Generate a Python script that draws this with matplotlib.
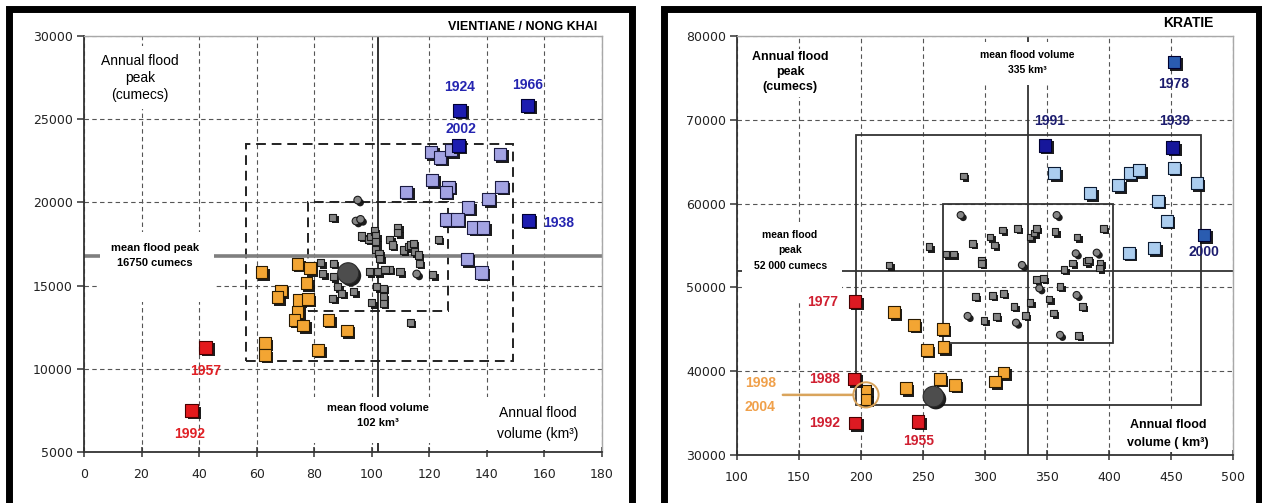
import matplotlib
matplotlib.use('Agg')
import matplotlib.pyplot as plt
from matplotlib.patches import Rectangle
import matplotlib.patheffects as pe

# ---------------- DATA : VIENTIANE / NONG KHAI ----------------
L_red_x = [42.3, 37.4]
L_red_y = [11300, 7490]
L_red_lab = ['1957', '1992']

L_blue_x = [130.6, 154.2, 130.1, 154.4]
L_blue_y = [25540, 25840, 23440, 18940]
L_blue_lab = ['1924', '1966', '2002', '1938']

L_lav_x = [120.6, 123.7, 127.5, 144.5, 121.0, 126.6, 125.7, 111.9, 145.1, 140.5,
           133.5, 126.0, 129.8, 135.3, 138.7, 133.0, 138.2]
L_lav_y = [23040, 22700, 23140, 22900, 21340, 20940, 20640, 20640, 20940, 20200,
           19700, 18980, 18980, 18480, 18480, 16600, 15780]

L_org_x = [61.7, 74.2, 78.5, 77.3, 68.4, 67.3, 74.5, 77.9, 74.2, 73.1, 76.2,
           62.9, 62.9, 81.4, 84.9, 91.3]
L_org_y = [15800, 16300, 16040, 15140, 14700, 14300, 14140, 14200, 13430, 12940,
           12600, 11540, 10840, 11140, 12940, 12300]

L_gsq_x = [86.4, 96.4, 98.8, 99.4, 100.8, 101.4, 101.4, 101.4, 102.5, 102.8, 106.3,
           107.1, 109.0, 109.0, 110.9, 112.7, 113.3, 114.4, 114.8, 116.2, 116.5,
           123.1, 121.2, 109.8, 106.1, 104.6, 102.0, 99.1, 82.2, 82.9, 86.6, 86.6,
           88.1, 89.5, 93.8, 86.4, 101.7, 104.0, 104.0, 104.0, 100.0, 113.3]
L_gsq_y = [19120, 17980, 17780, 17940, 18280, 17980, 17640, 17180, 16940, 16640, 17780,
           17440, 18500, 18180, 17140, 17340, 17440, 17540, 17040, 16840, 16340,
           17780, 15640, 15840, 15980, 15980, 15840, 15840, 16380, 15700, 16340, 15540,
           14940, 14540, 14640, 14240, 14940, 14840, 14340, 13940, 13980, 12800]
L_gci_x = [95.1, 94.5, 96.1, 115.6]
L_gci_y = [20140, 18880, 18980, 15700]

L_mean_x, L_mean_y = [91.8], [15740]
L_mean_peak = 16750
L_mean_vol = 102
L_box_outer = (56.3, 149.0, 10450, 23500)
L_box_inner = (78.0, 126.4, 13500, 20000)
L_xticks = list(range(0, 181, 20))
L_yticks = list(range(5000, 30001, 5000))

# ---------------- DATA : KRATIE ----------------
R_red_x = [195.2, 194.4, 195.2, 246.2]
R_red_y = [48300, 39050, 33800, 34000]
R_red_lab = ['1977', '1988', '1992', '1955']

R_blue_x = [452.4, 348.4, 451.4, 476.6]
R_blue_y = [76900, 66970, 66700, 56250]
R_blue_lab = ['1978', '1991', '1939', '2000']

R_lb_x = [355.9, 384.7, 407.5, 416.9, 424.4, 452.4, 470.7, 439.3, 446.5, 416.1, 436.3]
R_lb_y = [63600, 61220, 62200, 63600, 63990, 64270, 62410, 60330, 57950, 54140, 54660]

R_org_x = [226.6, 242.7, 265.9, 253.0, 266.4, 263.7, 275.8, 236.3, 314.8, 308.1]
R_org_y = [47030, 45520, 45040, 42540, 42860, 39050, 38370, 37970, 39830, 38760]
R_pair_x = [204.0, 204.0]
R_pair_y = [37690, 36660]
R_pair_lab = ['1998', '2004']

R_gsq_x = [282.5, 222.6, 254.8, 268.5, 274.4, 297.3, 297.3, 290.1, 304.0, 307.5, 314.3,
           326.4, 336.3, 339.5, 341.7, 356.5, 374.0, 370.7, 382.0, 363.9, 341.7, 347.0,
           360.5, 378.5, 351.6, 355.1, 375.3, 336.3, 332.8, 323.4, 314.8, 306.2, 292.5,
           309.4, 299.2, 395.4, 383.3, 392.7, 392.2]
R_gsq_y = [63280, 52670, 54850, 53980, 53980, 53270, 52870, 55250, 56040, 55050, 56840,
           57040, 56040, 56520, 57040, 56640, 56040, 52940, 53060, 52160, 50970, 51080,
           50080, 47700, 48620, 46920, 44240, 48180, 46630, 47700, 49300, 49010, 48890,
           46510, 46030, 57040, 53270, 52940, 52340]
R_gci_x = [280.4, 329.8, 357.8, 373.2, 343.8, 373.9, 360.5, 325.0, 286.0, 390.1]
R_gci_y = [58630, 52670, 58630, 54060, 49890, 49090, 44330, 45790, 46590, 54140]

R_mean_x, R_mean_y = [258.4], [36970]
R_mean_peak = 52000
R_mean_vol = 335
R_box_outer = (196.0, 474.0, 36000, 68200)
R_box_inner = (266.0, 403.0, 43400, 60000)
R_xticks = list(range(100, 501, 50))
R_yticks = list(range(30000, 80001, 10000))

# ---------------- FIGURE ----------------
W, H = 1262, 503
plt.rcParams['font.family'] = ['Liberation Sans', 'DejaVu Sans']
fig = plt.figure(figsize=(W / 100, H / 100), dpi=100)
fig.patch.set_facecolor('white')

ax1 = fig.add_axes([84 / W, 1 - 452 / H, 518 / W, 416 / H])
ax2 = fig.add_axes([737 / W, 1 - 455 / H, 496 / W, 419 / H])

SH = [pe.SimplePatchShadow(offset=(1.8, -1.8), shadow_rgbFace='#111111', alpha=0.95), pe.Normal()]
TICKFONT = ['DejaVu Sans']


def style_axes(ax, xt, yt):
    ax.set_xlim(xt[0], xt[-1])
    ax.set_ylim(yt[0], yt[-1])
    ax.set_xticks(xt)
    ax.set_yticks(yt)
    ax.set_xticklabels([str(v) for v in xt], family=TICKFONT, fontsize=9, color='#222222')
    ax.set_yticklabels([str(v) for v in yt], family=TICKFONT, fontsize=9, color='#222222')
    ax.tick_params(axis='x', direction='inout', length=7, width=1.1, pad=8, color='#333333')
    ax.tick_params(axis='y', direction='out', length=5, width=1.1, pad=3, color='#333333')
    ax.set_axisbelow(True)
    ax.grid(True, linestyle=(0, (4, 3)), color='#555555', linewidth=0.8)
    for s in ['left', 'bottom']:
        ax.spines[s].set_color('#333333')
        ax.spines[s].set_linewidth(1.3)
    for s in ['top', 'right']:
        ax.spines[s].set_color('#a8a8a8')
        ax.spines[s].set_linewidth(1.0)


def white_box(ax, x0, x1, y0, y1):
    ax.add_patch(Rectangle((x0, y0), x1 - x0, y1 - y0, transform=ax.transAxes,
                           facecolor='white', edgecolor='none', zorder=3))


def rect(ax, b, **kw):
    x0, x1, y0, y1 = b
    ax.add_patch(Rectangle((x0, y0), x1 - x0, y1 - y0, fill=False, zorder=2, **kw))


def pts(ax, x, y, fc, ec, s, marker='s', z=5):
    ax.scatter(x, y, s=s, marker=marker, facecolor=fc, edgecolor=ec, linewidths=0.8,
               zorder=z, path_effects=SH)


# ---------------- LEFT PANEL ----------------
style_axes(ax1, L_xticks, L_yticks)
rect(ax1, L_box_outer, edgecolor='#222222', linewidth=1.4, linestyle=(0, (5, 3)))
rect(ax1, L_box_inner, edgecolor='#222222', linewidth=1.4, linestyle=(0, (5, 3)))
ax1.axhline(L_mean_peak, color='#7f7f7f', linewidth=2.6, zorder=2.2)
ax1.axvline(L_mean_vol, color='#222222', linewidth=1.3, zorder=2.2)

white_box(ax1, 0.021, 0.205, 0.825, 0.975)
white_box(ax1, 0.031, 0.250, 0.361, 0.528)
white_box(ax1, 0.436, 0.687, 0.022, 0.132)
white_box(ax1, 0.764, 0.990, 0.005, 0.132)

ax1.text(0.108, 0.899, 'Annual flood\npeak\n(cumecs)', transform=ax1.transAxes, ha='center',
         va='center', fontsize=10, linespacing=1.3, zorder=4)
ax1.text(0.137, 0.472, 'mean flood peak\n16750 cumecs', transform=ax1.transAxes, ha='center',
         va='center', fontsize=8, fontweight='bold', linespacing=1.55, zorder=4)
ax1.text(0.568, 0.088, 'mean flood volume\n102 km³', transform=ax1.transAxes, ha='center',
         va='center', fontsize=8, fontweight='bold', linespacing=1.6, zorder=4)
ax1.text(0.876, 0.069, 'Annual flood\nvolume (km³)', transform=ax1.transAxes, ha='center',
         va='center', fontsize=10, linespacing=1.6, zorder=4)
ax1.text(0.990, 1.022, 'VIENTIANE / NONG KHAI', transform=ax1.transAxes, ha='right',
         va='center', fontsize=9, fontweight='bold',
         family=['Liberation Sans Narrow', 'Liberation Sans'])

pts(ax1, L_gsq_x, L_gsq_y, '#858585', '#1a1a1a', 26)
pts(ax1, L_gci_x, L_gci_y, '#858585', '#1a1a1a', 30, marker='o')
pts(ax1, L_mean_x, L_mean_y, '#4d4d4d', '#2a2a2a', 230, marker='o')
pts(ax1, L_org_x, L_org_y, '#f3a533', '#2a1a00', 70)
pts(ax1, L_lav_x, L_lav_y, '#a3a3e3', '#1a1a40', 80)
pts(ax1, L_red_x, L_red_y, '#e3191c', '#4a0000', 85)
pts(ax1, L_blue_x, L_blue_y, '#1c1cb0', '#000035', 88)

L_red_off = [(0, -17), (-1.5, -17)]
for x, y, t, o in zip(L_red_x, L_red_y, L_red_lab, L_red_off):
    ax1.annotate(t, (x, y), xytext=o, textcoords='offset points', ha='center', va='center',
                 fontsize=10, fontweight='bold', color='#e02025', zorder=6)
L_blue_off = [((0, 16.5), 'center'), ((0, 14.5), 'center'), ((2, 11.5), 'center'), ((11, -2), 'left')]
for x, y, t, (o, ha) in zip(L_blue_x, L_blue_y, L_blue_lab, L_blue_off):
    ax1.annotate(t, (x, y), xytext=o, textcoords='offset points', ha=ha, va='center',
                 fontsize=10, fontweight='bold', color='#2424b0', zorder=6)

# ---------------- RIGHT PANEL ----------------
style_axes(ax2, R_xticks, R_yticks)
rect(ax2, R_box_outer, edgecolor='#333333', linewidth=1.3)
rect(ax2, R_box_inner, edgecolor='#333333', linewidth=1.3)
ax2.axhline(R_mean_peak, color='#333333', linewidth=1.3, zorder=2.2)
ax2.axvline(R_mean_vol, color='#333333', linewidth=1.3, zorder=2.2)

white_box(ax2, 0.026, 0.198, 0.854, 0.968)
white_box(ax2, 0.010, 0.212, 0.365, 0.556)
white_box(ax2, 0.480, 0.690, 0.883, 0.985)
white_box(ax2, 0.772, 0.974, 0.007, 0.107)

ax2.text(0.107, 0.914, 'Annual flood\npeak\n(cumecs)', transform=ax2.transAxes, ha='center',
         va='center', fontsize=9, fontweight='bold', linespacing=1.35, zorder=4)
ax2.text(0.107, 0.489, 'mean flood\npeak\n52 000 cumecs', transform=ax2.transAxes, ha='center',
         va='center', fontsize=7.5, fontweight='bold', linespacing=1.7, zorder=4)
ax2.text(0.585, 0.937, 'mean flood volume\n335 km³', transform=ax2.transAxes, ha='center',
         va='center', fontsize=7.5, fontweight='bold', linespacing=1.6, zorder=4)
ax2.text(0.869, 0.050, 'Annual flood\nvolume ( km³)', transform=ax2.transAxes, ha='center',
         va='center', fontsize=9, fontweight='bold', linespacing=1.6, zorder=4)
ax2.text(0.960, 1.031, 'KRATIE', transform=ax2.transAxes, ha='right', va='center',
         fontsize=10, fontweight='bold', family=['Liberation Sans Narrow', 'Liberation Sans'])

pts(ax2, R_gsq_x, R_gsq_y, '#858585', '#1a1a1a', 22)
pts(ax2, R_gci_x, R_gci_y, '#858585', '#1a1a1a', 26, marker='o')
pts(ax2, R_mean_x, R_mean_y, '#4d4d4d', '#2a2a2a', 220, marker='o')
pts(ax2, R_org_x, R_org_y, '#f3a533', '#2a1a00', 70)
pts(ax2, R_pair_x, R_pair_y, '#f3a533', '#2a1a00', 60)
pts(ax2, R_lb_x, R_lb_y, '#abcdef', '#0a1a33', 75)
pts(ax2, R_red_x, R_red_y, '#dd1a22', '#4a0000', 80)
R_blue_fc = ['#2a5cb0', '#16169a', '#16169a', '#2a5cb0']
for x, y, c in zip(R_blue_x, R_blue_y, R_blue_fc):
    pts(ax2, [x], [y], c, '#000030', 85)

# circle around the 1998 / 2004 pair and its leader
cx = sum(R_pair_x) / len(R_pair_x)
cy = sum(R_pair_y) / len(R_pair_y)
ax2.scatter([cx], [cy], s=330, marker='o', facecolor='none', edgecolor='#d9a45c',
            linewidths=1.4, zorder=5.5)
ax2.annotate('1998\n\n2004', (cx, cy), xytext=(-76, 0), textcoords='offset points',
             ha='center', va='center', fontsize=10, fontweight='bold', color='#f0a04a',
             linespacing=0.8, zorder=6,
             arrowprops=dict(arrowstyle='-', color='#d9a45c', lw=1.8, relpos=(1.0, 0.5),
                             shrinkA=3, shrinkB=9))

R_red_off = [(-12, 0), (-10, 0), (-11, 0)]
for x, y, t, o in zip(R_red_x[:3], R_red_y[:3], R_red_lab[:3], R_red_off):
    ax2.annotate(t, (x, y), xytext=o, textcoords='offset points', ha='right', va='center',
                 fontsize=10, fontweight='bold', color='#d01f30', zorder=6)
ax2.annotate(R_red_lab[3], (R_red_x[3], R_red_y[3]), xytext=(0, -14), textcoords='offset points',
             ha='center', va='center', fontsize=10, fontweight='bold', color='#d01f30', zorder=6)
R_blue_off = [(0, -16), (3.5, 17.5), (1.6, 19), (0, -12)]
for x, y, t, o in zip(R_blue_x, R_blue_y, R_blue_lab, R_blue_off):
    ax2.annotate(t, (x, y), xytext=o, textcoords='offset points', ha='center', va='center',
                 fontsize=10, fontweight='bold', color='#1c1c6e', zorder=6)

# ---------------- PANEL FRAMES ----------------
def frame(px0, px1, py0):
    fig.add_artist(Rectangle((px0 / W, 1 - (H + 20) / H), (px1 - px0) / W, (H + 20 - py0) / H,
                             transform=fig.transFigure, fill=False, edgecolor='black',
                             linewidth=5.0))

frame(8.5, 631.5, 9)
frame(663.5, 1258.5, 9)

fig.savefig('out.png', dpi=100, facecolor='white')
